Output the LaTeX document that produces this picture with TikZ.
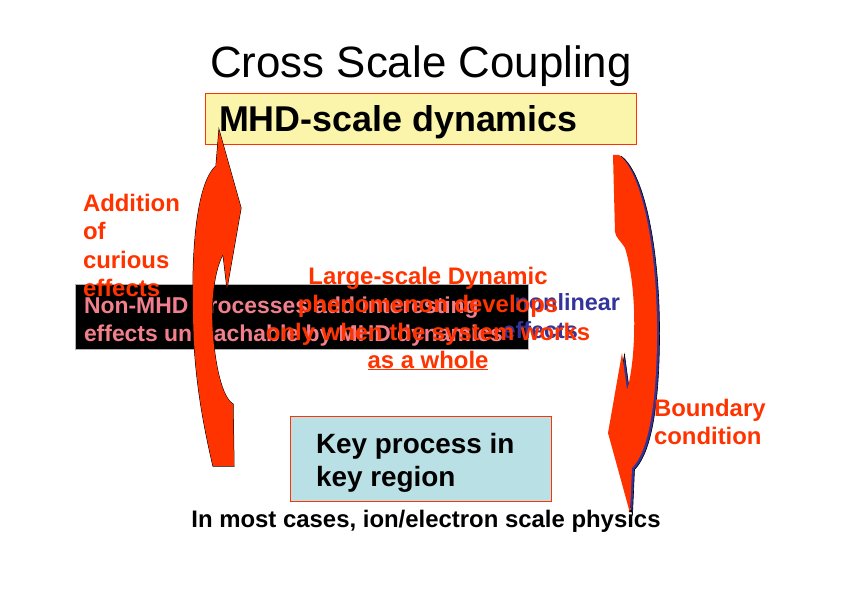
\documentclass[tikz,border=0pt]{standalone}
\usepackage{fontspec}
\setmainfont{Liberation Sans}

\definecolor{slidered}{RGB}{255,51,0}
\definecolor{slideblue}{RGB}{51,51,153}
\definecolor{slidepink}{RGB}{242,128,140}
\definecolor{mhdyellow}{RGB}{250,245,170}
\definecolor{keycyan}{RGB}{185,224,228}

\begin{document}
\begin{tikzpicture}[x=1bp, y=-1bp,
	every node/.style={inner sep=0pt, outer sep=0pt},
	redlabel/.style={text=slidered, font=\bfseries\fontsize{24}{28}\selectfont},
	pinklabel/.style={text=slidepink, font=\bfseries\fontsize{23}{28}\selectfont, anchor=base west},
	bluelabel/.style={text=slideblue, font=\bfseries\fontsize{23.5}{28}\selectfont, anchor=base east},
	blacklabel/.style={text=black, font=\bfseries\fontsize{28}{34}\selectfont, anchor=base west},
	slidebox/.style={draw=slidered, line width=0.8}]
	% \drawbendL#fill#format
	\def\drawbendL#1#2{
		\filldraw[fill=#1, #2]
			(219,130) -- (241,208) -- (227,288) -- (223,254)
			.. controls (212,275) and (211,310) .. (213,335)
			.. controls (215,365) and (222,398) .. (233,404)
			-- (234,466) -- (213,466)
			.. controls (200,410) and (192,360) .. (193,290)
			.. controls (193,230) and (200,180) .. (216,166) -- cycle;
	}
	
	% \drawbendR#fill#format
	\def\drawbendR#1#2{
		\filldraw[fill=#1, #2]
			(613,155) -- (619,155)
			.. controls (642,172) and (658,250) .. (657,340)
			.. controls (656,420) and (645,455) .. (632,468)
			-- (630,513) -- (608,433) -- (622,353) -- (627,390)
			.. controls (636,360) and (638,290) .. (625,248)
			.. controls (620,240) and (616,238) .. (615,232) -- cycle;
	}
	
	\useasboundingbox (0,0) rectangle (842,595);
	
	% title
	\node[anchor=base, font=\fontsize{44}{50}\selectfont] (title) at (421,78) {Cross Scale Coupling};
	
	% boxes
	\filldraw[slidebox, fill=mhdyellow] (205,93) rectangle (636,144);
	\filldraw[slidebox, fill=keycyan] (290,416) rectangle (551,501);
	\node[blacklabel] (keyA) at (316,453) {Key process in};
	\node[blacklabel] (keyB) at (316,486) {key region};
	\node[anchor=base, font=\bfseries\fontsize{24}{28}\selectfont] (scale) at (426,527) {In most cases, ion/electron scale physics};
	
	% black panel and its text
	\filldraw[fill=black, draw=gray!60, line width=0.8] (75,284) rectangle (528,349);
	\node[pinklabel] (nonA) at (84,313) {Non-MHD processes add interesting};
	\node[pinklabel] (nonB) at (84,341) {effects unreachable by MHD dynamics};
	\node[bluelabel] (nlinA) at (620,310) {nonlinear};
	\node[bluelabel] (nlinB) at (578,338) {effects};
	
	% curved arrows
	\drawbendL{black}{draw=black, line width=1.0}
	\drawbendL{slidered}{draw=none}
	\drawbendR{slideblue}{draw=black, line width=0.6, shift={(2.5,1.5)}}
	\drawbendR{slidered}{draw=none}
	
	\node[anchor=base west, font=\bfseries\fontsize{36}{40}\selectfont] (mhd) at (219,132) {MHD-scale dynamics};
	
	% red labels
	\node[redlabel, anchor=base west] (addA) at (83,212) {Addition};
	\node[redlabel, anchor=base west] (addB) at (83,240) {of};
	\node[redlabel, anchor=base west] (addC) at (83,268) {curious};
	\node[redlabel, anchor=base west] (addD) at (83,296) {effects};
	
	\node[redlabel, anchor=base west] (bndA) at (654,416) {Boundary};
	\node[redlabel, anchor=base west] (bndB) at (654,444) {condition};
	
	\node[redlabel, anchor=base] (largeA) at (428,284) {Large-scale Dynamic};
	\node[redlabel, anchor=base] (largeB) at (428,312) {phenomenon develops};
	\node[redlabel, anchor=base] (largeC) at (428,340) {only when the system works};
	\node[redlabel, anchor=base] (largeD) at (428,368) {\underline{as a whole}};
\end{tikzpicture}
\end{document}
